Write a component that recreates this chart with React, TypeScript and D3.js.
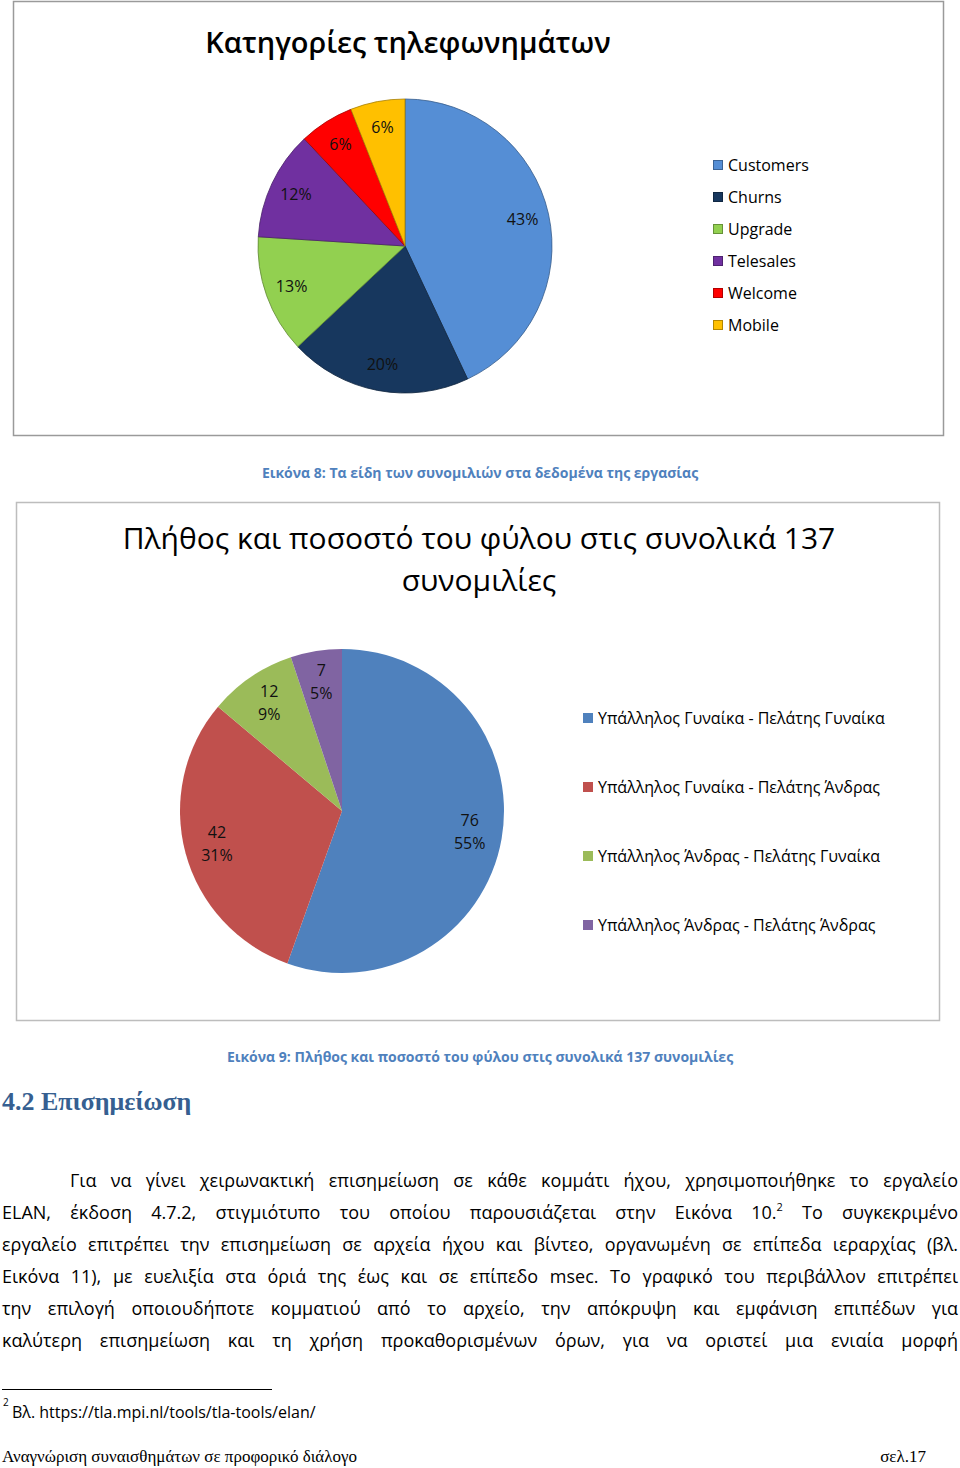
import React, { useLayoutEffect, useRef } from "react";
import * as d3 from "d3";

// ---- Data ----
const callCategories = ["Customers", "Churns", "Upgrade", "Telesales", "Welcome", "Mobile"];
const callShares = [43, 20, 13, 12, 6, 6];

const genderCategories = [
  "Υπάλληλος Γυναίκα - Πελάτης Γυναίκα",
  "Υπάλληλος Γυναίκα - Πελάτης Άνδρας",
  "Υπάλληλος Άνδρας - Πελάτης Γυναίκα",
  "Υπάλληλος Άνδρας - Πελάτης Άνδρας",
];
const genderCounts = [76, 42, 12, 7];

const paragraphLines = [
  "Για να γίνει χειρωνακτική επισημείωση σε κάθε κομμάτι ήχου, χρησιμοποιήθηκε το εργαλείο",
  "ELAN, έκδοση 4.7.2, στιγμιότυπο του οποίου παρουσιάζεται στην Εικόνα 10.^2 Το συγκεκριμένο",
  "εργαλείο επιτρέπει την επισημείωση σε αρχεία ήχου και βίντεο, οργανωμένη σε επίπεδα ιεραρχίας (βλ.",
  "Εικόνα 11), με ευελιξία στα όριά της έως και σε επίπεδο msec. Το γραφικό του περιβάλλον επιτρέπει",
  "την επιλογή οποιουδήποτε κοµματιού από το αρχείο, την απόκρυψη και εμφάνιση επιπέδων για",
  "καλύτερη επισημείωση και τη χρήση προκαθορισμένων όρων, για να οριστεί μια ενιαία μορφή",
];

// ---- Styles ----
const callColors = ["#558ED5", "#17375E", "#92D050", "#7030A0", "#FF0000", "#FFC000"];
const genderColors = ["#4F81BD", "#C0504D", "#9BBB59", "#8064A2"];
const SANS = "'Open Sans', 'Noto Sans', sans-serif";
const SERIF = "'Liberation Serif', 'DejaVu Serif', serif";
const CAPTION = "#4F81BD";

function Paragraph() {
  const ref = useRef<SVGGElement>(null);
  useLayoutEffect(() => {
    if (!ref.current) return;
    d3.select(ref.current)
      .selectAll<SVGTextElement, unknown>("text")
      .each(function () {
        const el = this as SVGTextElement;
        const x0 = +el.getAttribute("data-x0")!;
        const x1 = +el.getAttribute("data-x1")!;
        el.setAttribute("word-spacing", "0");
        const natural = el.getComputedTextLength();
        const spaces = (el.textContent || "").split(" ").length - 1;
        if (spaces > 0) {
          el.setAttribute("word-spacing", String((x1 - x0 - natural) / spaces));
        }
      });
  }, []);
  const lineY = d3.scaleLinear().domain([0, 1]).range([1187, 1219]);
  return (
    <g ref={ref} fontFamily={SANS} fontSize={18} fill="#000">
      {paragraphLines.map((line, i) => {
        const x0 = i === 0 ? 70 : 2;
        const parts = line.split("^2");
        return (
          <text key={i} x={x0} y={lineY(i)} data-x0={x0} data-x1={958}>
            {parts.length > 1 ? (
              <>
                {parts[0]}
                <tspan fontSize={11} dy={-8}>2</tspan>
                <tspan dy={8}>{parts[1]}</tspan>
              </>
            ) : (
              line
            )}
          </text>
        );
      })}
    </g>
  );
}

export default function App() {
  // Chart 1
  const c1 = { cx: 405, cy: 246, r: 147 };
  const pie = d3.pie<number>().sort(null).value((d) => d);
  const arcs1 = pie(callShares);
  const arc1 = d3.arc<d3.PieArcDatum<number>>().innerRadius(0).outerRadius(c1.r);
  const lab1 = d3.arc<d3.PieArcDatum<number>>().innerRadius(c1.r * 0.82).outerRadius(c1.r * 0.82);
  const total1 = d3.sum(callShares);
  const leg1 = d3.scalePoint<string>().domain(callCategories).range([165, 325]);

  // Chart 2
  const c2 = { cx: 342, cy: 811, r: 162 };
  const arcs2 = pie(genderCounts);
  const arc2 = d3.arc<d3.PieArcDatum<number>>().innerRadius(0).outerRadius(c2.r);
  const lab2 = d3.arc<d3.PieArcDatum<number>>().innerRadius(c2.r * 0.8).outerRadius(c2.r * 0.8);
  const total2 = d3.sum(genderCounts);
  const leg2 = d3.scalePoint<string>().domain(genderCategories).range([718, 925]);
  const pct = (v: number, t: number) => `${Math.round((v / t) * 100)}%`;

  return (
    <svg
      width={960}
      height={1468}
      style={{ position: "absolute", left: 0, top: 0, background: "#fff" }}
    >
      <rect width={960} height={1468} fill="#fff" />

      {/* Chart 1 frame */}
      <rect x={13.5} y={1.5} width={930} height={434} fill="#fff" stroke="#9A9A9A" strokeWidth={1.5} />
      <text x={408} y={53} textAnchor="middle" fontFamily={SANS} fontSize={29} fontWeight={600} fill="#000">
        Κατηγορίες τηλεφωνημάτων
      </text>
      <g transform={`translate(${c1.cx},${c1.cy})`}>
        {arcs1.map((a, i) => (
          <path key={i} d={arc1(a)!} fill={callColors[i]} stroke={d3.color(callColors[i])!.darker(1.2).formatHex()} strokeWidth={0.8} />
        ))}
        {arcs1.map((a, i) => {
          const [x, y] = lab1.centroid(a);
          return (
            <text key={i} x={x} y={y} dy="0.35em" textAnchor="middle" fontFamily={SANS} fontSize={16} fill="#111">
              {pct(callShares[i], total1)}
            </text>
          );
        })}
      </g>
      <g fontFamily={SANS} fontSize={16} fill="#000">
        {callCategories.map((c, i) => (
          <g key={c} transform={`translate(713,${leg1(c)})`}>
            <rect x={0.5} y={-4.5} width={9} height={9} fill={callColors[i]} stroke={d3.color(callColors[i])!.darker(1).formatHex()} strokeWidth={1} />
            <text x={15} y={0} dy="0.35em">{c}</text>
          </g>
        ))}
      </g>

      {/* Caption 1 */}
      <text x={480} y={478} textAnchor="middle" fontFamily={SANS} fontSize={14} fontWeight={700} fill={CAPTION}>
        Εικόνα 8: Τα είδη των συνομιλιών στα δεδομένα της εργασίας
      </text>

      {/* Chart 2 frame */}
      <rect x={16.5} y={502.5} width={923} height={518} fill="#fff" stroke="#BDBDBD" strokeWidth={1.5} />
      <g fontFamily={SANS} fontSize={30} fontWeight={500} fill="#000" textAnchor="middle">
        <text x={479} y={549}>Πλήθος και ποσοστό του φύλου στις συνολικά 137</text>
        <text x={479} y={591}>συνομιλίες</text>
      </g>
      <g transform={`translate(${c2.cx},${c2.cy})`}>
        {arcs2.map((a, i) => (
          <path key={i} d={arc2(a)!} fill={genderColors[i]} />
        ))}
        {arcs2.map((a, i) => {
          const [x, y] = lab2.centroid(a);
          return (
            <text key={i} x={x} y={y} textAnchor="middle" fontFamily={SANS} fontSize={16} fill="#111">
              <tspan x={x} dy="-0.45em">{genderCounts[i]}</tspan>
              <tspan x={x} dy="1.45em">{pct(genderCounts[i], total2)}</tspan>
            </text>
          );
        })}
      </g>
      <g fontFamily={SANS} fontSize={16} fill="#000">
        {genderCategories.map((c, i) => (
          <g key={c} transform={`translate(583,${leg2(c)})`}>
            <rect x={0} y={-5} width={10} height={10} fill={genderColors[i]} />
            <text x={15} y={0} dy="0.35em">{c}</text>
          </g>
        ))}
      </g>

      {/* Caption 2 */}
      <text x={480} y={1062} textAnchor="middle" fontFamily={SANS} fontSize={14} fontWeight={700} fill={CAPTION}>
        Εικόνα 9: Πλήθος και ποσοστό του φύλου στις συνολικά 137 συνομιλίες
      </text>

      {/* Heading */}
      <text x={2} y={1110} fontFamily={SERIF} fontSize={26} fontWeight={700} fill="#365F91">
        4.2 Επισημείωση
      </text>

      <Paragraph />

      {/* Footnote */}
      <line x1={2} x2={272} y1={1389.5} y2={1389.5} stroke="#000" strokeWidth={1} />
      <text x={3} y={1406} fontFamily={SANS} fontSize={10} fill="#000">2</text>
      <text x={12} y={1418} fontFamily={SANS} fontSize={16} fill="#000">
        Βλ. https://tla.mpi.nl/tools/tla-tools/elan/
      </text>

      {/* Footer */}
      <text x={2} y={1462} fontFamily={SERIF} fontSize={17} fill="#000">
        Αναγνώριση συναισθημάτων σε προφορικό διάλογο
      </text>
      <text x={926} y={1462} textAnchor="end" fontFamily={SERIF} fontSize={17} fill="#000">
        σελ.17
      </text>
    </svg>
  );
}
